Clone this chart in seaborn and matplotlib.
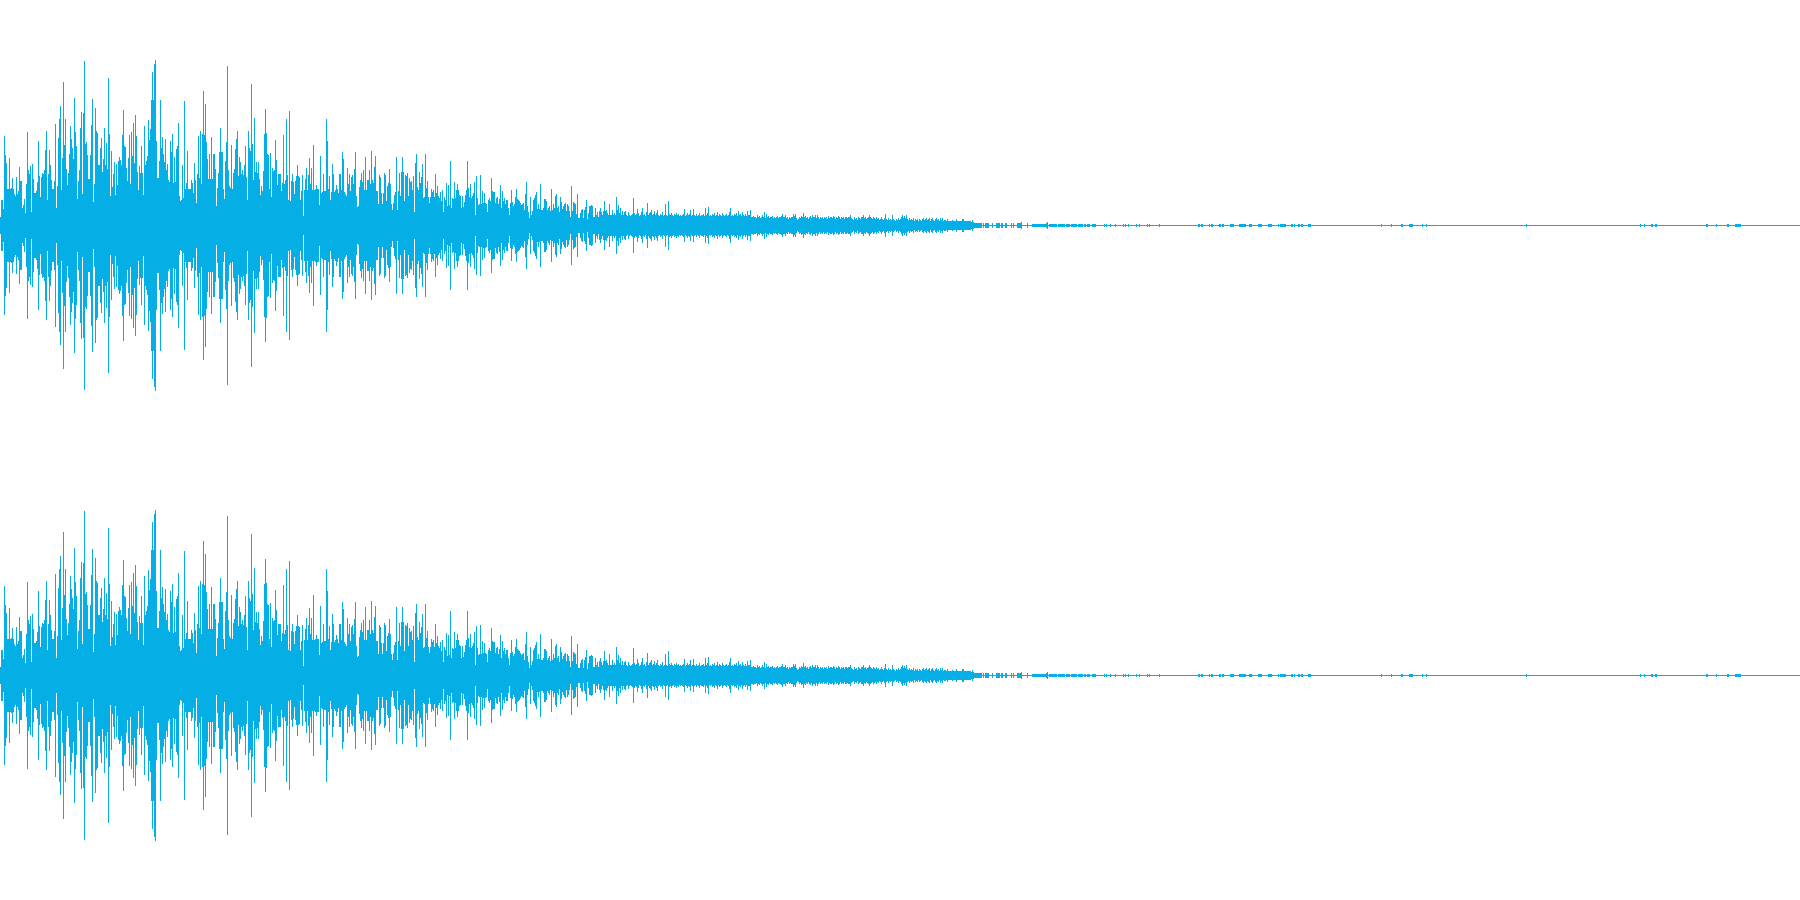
import numpy as np
import pandas as pd
import matplotlib
matplotlib.use("Agg")
import matplotlib.pyplot as plt
import seaborn as sns

# peak height of the waveform per pixel column
attack = [
    8,25,25,16,89,70,62,36,36,67,36,37,47,36,31,29,48,31,34,58,44,44,17,20,26,
    12,41,93,55,51,59,13,61,46,32,32,34,43,84,49,28,48,52,51,55,75,94,25,51,75,
    60,45,36,36,44,101,17,39,87,106,119,35,67,143,80,106,56,40,52,71,99,86,77,66,127,
    93,79,26,44,55,97,113,31,112,164,81,83,70,46,46,70,100,126,23,41,117,94,92,60,60,
    77,87,53,66,97,60,82,56,147,91,29,74,38,51,63,30,61,40,64,68,65,60,90,115,79,
    78,57,44,67,90,41,93,69,102,62,110,89,53,35,59,52,79,52,30,99,60,64,69,105,85,
    96,125,153,125,161,165,84,47,47,64,125,77,88,71,63,86,55,61,45,43,84,73,91,42,68,
    43,76,79,102,29,24,25,60,27,124,36,42,74,36,36,36,45,42,32,62,45,22,51,89,47,
    94,41,91,134,90,121,83,66,46,71,46,88,46,71,71,56,19,37,52,73,97,73,73,36,26,
    64,83,159,55,39,37,80,36,52,56,76,86,94,49,68,63,51,55,50,60,79,48,25,94,77,
    74,141,81,45,107,53,63,52,63,46,30,39,34,54,91,116,92,71,70,36,72,28,57,54,55,
    85,65,40,51,51,51,34,42,90,41,45,106,50,25,114,24,44,51,43,31,44,49,60,49,48,
    25,34,50,9,35,46,57,35,50,67,41,57,35,80,35,36,40,36,36,20,69,32,33,51,34,
    34,106,84,36,49,25,33,61,51,33,35,40,36,32,51,51,35,73,66,33,31,29,57,41,51,
    34,48,50,41,56,73,29,18,19,38,45,52,43,55,35,68,35,45,45,55,41,74,45,42,58,
    69,34,34,21,50,48,32,21,32,52,50,24,39,42,56,41,21,15,22,30,33,68,15,34,52,
    29,53,68,53,24,50,49,52,29,47,43,44,35,49,13,62,71,38,35,53,42,48,61,27,28,
    71,37,44,28,22,28,36,33,35,28,51,32,39,29,27,33,24,35,13,28,25,42,19,40,20,
]
decay = [
    64,17,27,26,43,27,35,41,35,30,29,17,29,18,23,30,35,64,37,28,41,27,29,32,43,
    10,49,27,20,21,50,21,34,22,32,22,21,13,25,27,24,47,34,33,33,22,27,28,21,26,
    40,17,34,24,27,21,25,25,17,10,22,35,23,19,21,28,36,26,25,24,22,20,21,22,15,
    31,43,19,13,7,28,10,14,25,27,30,33,16,21,16,41,15,15,17,26,26,24,15,17,19,
    14,36,15,21,17,29,31,17,19,13,28,23,16,19,21,22,14,21,19,14,8,39,14,23,22,
    21,11,31,7,7,12,15,16,7,15,18,25,6,12,19,19,20,19,8,8,17,10,13,8,14,
    17,13,10,14,24,14,15,12,10,21,10,10,15,10,12,10,28,15,20,12,17,10,14,10,13,
    14,10,9,13,10,9,10,11,27,12,10,11,16,12,9,10,13,17,10,11,9,13,22,10,12,
    13,15,10,11,14,10,12,15,10,9,11,10,13,9,10,21,10,9,24,11,10,12,10,9,11,
    10,12,10,11,9,10,9,10,11,16,9,10,12,10,11,15,9,10,16,10,9,11,9,10,12,
    9,10,10,11,9,17,10,12,18,9,10,9,11,10,12,9,10,13,9,11,10,9,12,10,9,
    10,11,9,10,13,17,9,10,9,11,10,12,9,14,10,11,9,13,10,9,11,9,14,10,10,
]
tail = [
    15,8,8,9,8,8,7,10,8,9,7,8,10,8,13,7,11,8,9,7,8,8,9,7,8,
    7,8,9,7,8,8,9,11,8,8,10,7,8,6,8,7,8,8,11,9,11,7,5,6,8,
    7,9,8,12,8,9,7,8,6,8,9,7,10,8,8,10,7,10,8,6,8,7,8,6,8,
    7,8,6,9,7,8,8,7,9,8,6,8,7,9,8,6,8,7,8,6,8,8,7,8,8,
    10,7,6,5,8,6,7,5,8,7,6,8,8,10,7,8,6,7,8,10,8,7,6,8,7,
    6,8,6,7,5,6,8,6,5,7,11,6,5,7,5,6,5,10,6,5,4,6,5,7,5,
    6,8,10,7,9,7,10,6,5,7,5,6,5,7,4,6,5,6,4,6,5,4,6,7,5,
    6,7,5,6,7,4,6,7,5,4,6,7,5,6,4,7,5,7,4,5,5,4,6,4,4,
    4,4,5,4,4,4,6,4,4,4,4,4,6,6,4,4,4,4,4,4,4,3,5,3,
]
# columns 974 to 1095, zero where only the centre line shows
fade = [
    2,2,2,2,2,2,2,2,0,2,0,2,2,2,2,0,0,0,2,0,0,0,2,2,2,
    2,0,2,2,0,0,2,2,0,0,0,0,2,0,2,0,0,0,2,2,2,2,3,0,0,
    0,0,0,2,0,0,0,0,1,1,1,1,1,1,1,1,1,1,1,1,1,1,2,3,0,
    1,1,1,1,1,1,1,1,0,1,1,1,1,1,1,1,0,1,1,1,1,0,1,1,1,
    1,1,1,0,1,1,1,1,1,0,1,1,0,1,1,1,0,0,1,1,1,1,
]
# single clicks after the sound has died out
click_x = [1104,1106,1110,1115,1123,1125,1128,1136,1139,1147,1149,1159,
           1198,1199,1201,1202,1209,1211,1212,1219,1220,1222,1223,1230,1231,1232,1233,
           1239,1240,1241,1242,1243,1244,1245,1249,1250,1251,1258,1259,1260,1261,
           1268,1269,1270,1271,1278,1280,1281,1282,1283,1284,1285,1291,1292,1294,
           1298,1299,1301,1302,1308,1309,1310,1381,1391,1401,1402,1409,1410,1411,1412,
           1422,1426,1526,1640,1644,1651,1652,1655,1656,1706,1707,1716,1727,1728,
           1735,1736,1737,1738,1739,1740]
click_peak = [1]*len(click_x)

channels = ["left", "right"]
color = "#06aee6"

peak = attack + decay + tail + fade
col = list(range(len(peak))) + click_x
peak = peak + click_peak

df = pd.DataFrame({"col": col, "peak": peak})
df = df[df.peak > 0]
wave = pd.concat([df.assign(y=df.peak), df.assign(y=-df.peak)])

sns.set_theme(style="white")
fig, axs = plt.subplots(2, 1, figsize=(18, 9), dpi=100)
fig.subplots_adjust(left=0, right=1, top=1, bottom=0, hspace=0)

for ax, name in zip(axs, channels):
    sns.lineplot(data=wave, x="col", y="y", units="col", estimator=None,
                 color=color, lw=0.72, antialiased=False,
                 solid_capstyle="butt", ax=ax)
    ax.axhline(0, color=color, lw=0.72, antialiased=False)
    # whole pixels, so every column lands on its own pixel when snapped
    ax.set_xlim(0, 1800)
    ax.set_ylim(-225, 225)
    ax.axis("off")

fig.savefig("out.png", dpi=100, facecolor="white")
